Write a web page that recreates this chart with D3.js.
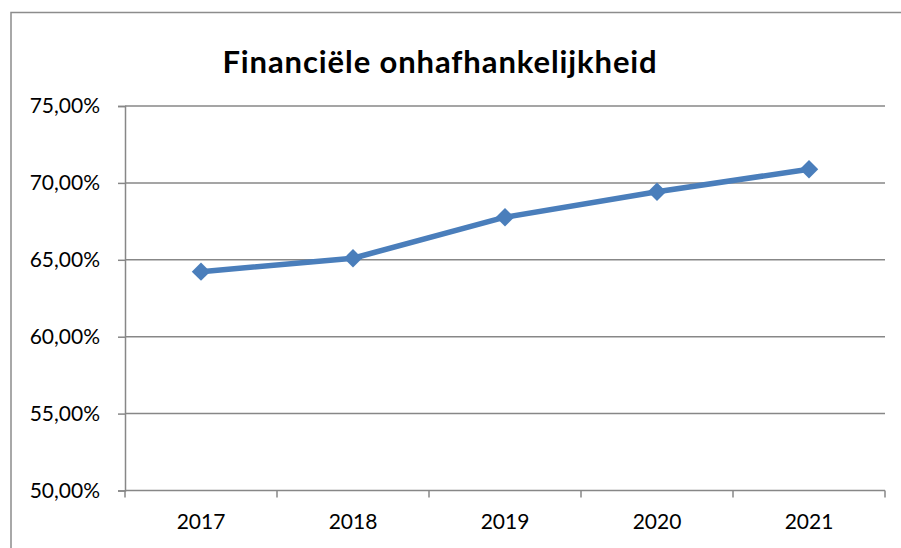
<!DOCTYPE html>
<head>
	<script src="https://d3js.org/d3.v7.min.js"></script>
	<style>
		body { margin: 0; background: #fff; }
		text { font-family: Lato, "Open Sans", sans-serif; fill: #000; }
	</style>
</head>
<body>
	<script type="text/javascript">
		var years = ["2017", "2018", "2019", "2020", "2021"];
		var values = [0.6423, 0.6510, 0.6777, 0.6943, 0.7089];
		var yTicks = [0.50, 0.55, 0.60, 0.65, 0.70, 0.75];
		var title = "Financiële onhafhankelijkheid";

		var w = 901, h = 548;
		var plotLeft = 125, plotRight = 885, plotTop = 106, plotBottom = 490.5;

		var svg = d3.select("body").append("svg").attr("width", w).attr("height", h);

		// chart frame
		svg.append("rect")
			.attr("x", 11).attr("y", 12.5)
			.attr("width", 900).attr("height", 560)
			.attr("fill", "none")
			.attr("stroke", "#8c8c8c")
			.attr("stroke-width", 1.5);

		var xScale = d3.scaleBand().domain(years).range([plotLeft, plotRight]);
		var yScale = d3.scaleLinear().domain([0.5, 0.75]).range([plotBottom, plotTop]);

		var fmt = function(d){ return d3.format(".2f")(d * 100).replace(".", ",") + "%"; };

		// gridlines
		svg.selectAll(".grid")
			.data(yTicks.filter(function(d){ return d > 0.5; }))
			.enter()
			.append("line")
			.attr("x1", plotLeft).attr("x2", plotRight)
			.attr("y1", function(d){ return yScale(d); })
			.attr("y2", function(d){ return yScale(d); })
			.attr("stroke", "#878787")
			.attr("stroke-width", 1.5);

		var yAxis = svg.append("g")
			.attr("transform", "translate(" + plotLeft + ",0)")
			.call(d3.axisLeft(yScale).tickValues(yTicks).tickFormat(fmt).tickSize(7).tickPadding(18));

		var xAxis = svg.append("g")
			.attr("transform", "translate(0," + plotBottom + ")")
			.call(d3.axisBottom(xScale).tickSize(0).tickPadding(24));

		// category boundary ticks
		svg.selectAll(".xtick")
			.data(d3.range(years.length + 1))
			.enter()
			.append("line")
			.attr("x1", function(i){ return plotLeft + i * xScale.step(); })
			.attr("x2", function(i){ return plotLeft + i * xScale.step(); })
			.attr("y1", plotBottom).attr("y2", plotBottom + 7)
			.attr("stroke", "#878787")
			.attr("stroke-width", 1.5);

		[yAxis, xAxis].forEach(function(g){
			g.select(".domain").attr("stroke", "#878787").attr("stroke-width", 1.5);
			g.selectAll(".tick line").attr("stroke", "#878787").attr("stroke-width", 1.5);
			g.selectAll(".tick text").attr("font-size", 21).attr("font-family", "Lato, sans-serif").attr("fill", "#000");
		});
		xAxis.select(".domain").attr("d", "M" + plotLeft + ",0H" + plotRight);

		var xc = function(d, i){ return xScale(years[i]) + xScale.bandwidth() / 2; };

		var line = d3.line()
			.x(function(d, i){ return xc(d, i); })
			.y(function(d){ return yScale(d); });

		svg.append("path")
			.datum(values)
			.attr("d", line)
			.attr("fill", "none")
			.attr("stroke", "#4a7ebb")
			.attr("stroke-width", 5.5)
			.attr("stroke-linejoin", "round");

		svg.selectAll(".marker")
			.data(values)
			.enter()
			.append("path")
			.attr("d", d3.symbol().type(d3.symbolSquare).size(170))
			.attr("transform", function(d, i){ return "translate(" + xc(d, i) + "," + yScale(d) + ") rotate(45)"; })
			.attr("fill", "#4a7ebb");

		svg.append("text")
			.attr("x", 440).attr("y", 73)
			.attr("text-anchor", "middle")
			.attr("font-size", 31)
			.attr("font-weight", "bold")
			.attr("letter-spacing", 0.9)
			.text(title);
	</script>
</body>
